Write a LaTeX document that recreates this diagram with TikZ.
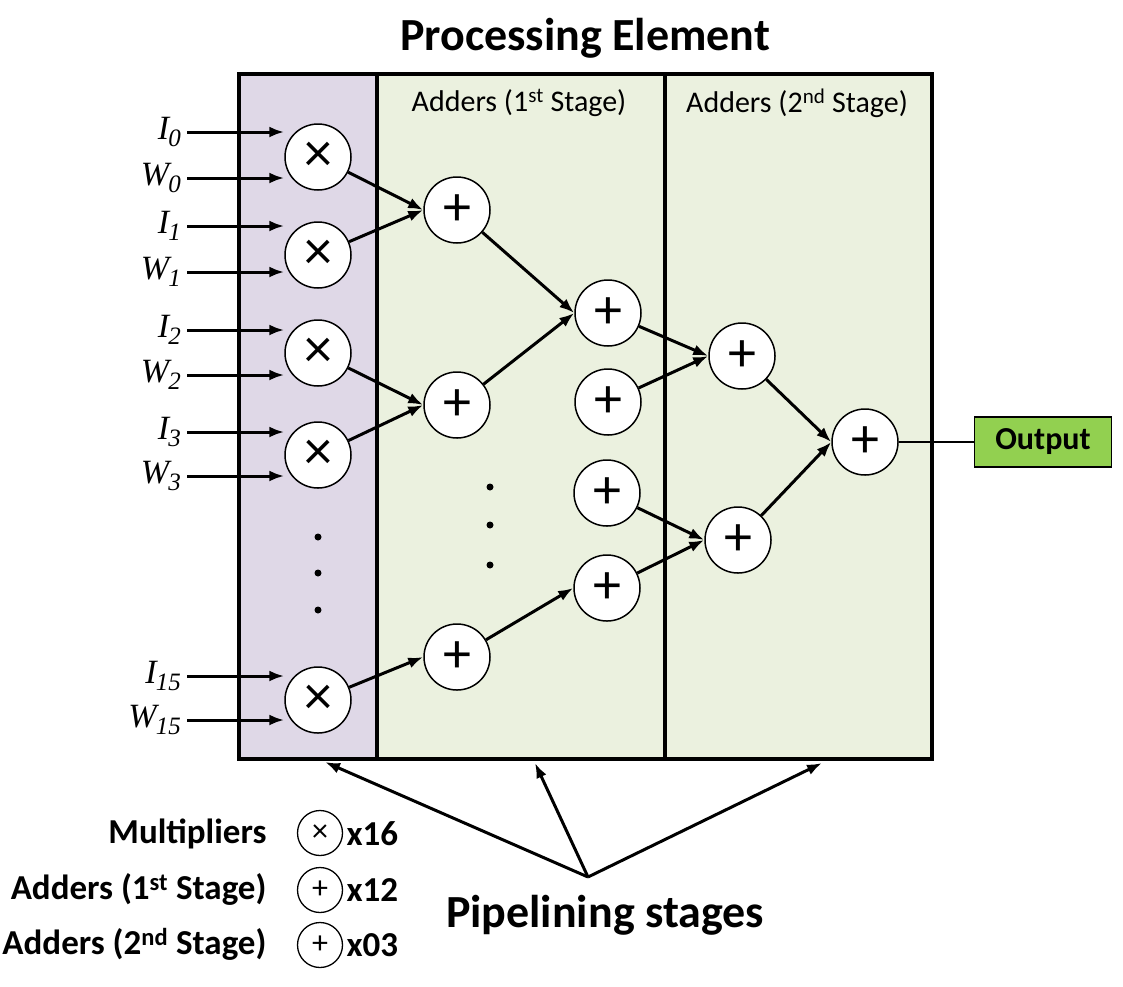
\documentclass[tikz,border=0pt]{standalone}
\usepackage{fontspec}
\setmainfont{Carlito}
\newfontfamily\timesfont{Liberation Serif}
\usetikzlibrary{arrows.meta,positioning,calc}
\definecolor{mulfill}{HTML}{DFD8E7}
\definecolor{addfill}{HTML}{EBF1DF}
\definecolor{outfill}{HTML}{92D050}

% input label: letter with a big subscript
\newcommand{\inlab}[2]{\timesfont\itshape #1\kern-1pt\raisebox{-0.45ex}{\fontsize{25}{25}\selectfont #2}}

\begin{document}
\begin{tikzpicture}[x=1pt,y=-1pt,
  panel/.style={draw, line width=4pt, anchor=north west, minimum height=685pt},
  mul/.style={draw, circle, fill=white, line width=1.5pt, minimum size=66pt, inner sep=0pt,
              font=\fontsize{56}{56}\selectfont},
  add/.style={mul},
  arr/.style={-{Latex[length=15pt,width=11pt]}, line width=3pt},
  inp/.style={anchor=east, inner sep=0pt, font=\fontsize{34}{34}\selectfont},
  dot/.style={circle, fill=black, inner sep=0pt, minimum size=7pt},
  legcirc/.style={draw, circle, line width=1.3pt, minimum size=45pt, inner sep=0pt,
                  font=\fontsize{32}{32}\selectfont},
  legtext/.style={font=\fontsize{35}{35}\selectfont\bfseries}]
  \useasboundingbox (0,0) rectangle (1123,986);

  % panels
  \node[panel, fill=mulfill, minimum width=138pt] (mulpanel) at (237,72) {};
  \node[panel, fill=addfill, minimum width=288pt] (addpanel1) at (375,72) {};
  \node[panel, fill=addfill, minimum width=267pt] (addpanel2) at (663,72) {};

  \node[font=\fontsize{46}{46}\selectfont\bfseries] (title) at (585,38) {Processing Element};
  \node[font=\fontsize{30}{30}\selectfont] (stage1) at (519,103) {Adders (1\textsuperscript{st} Stage)};
  \node[font=\fontsize{30}{30}\selectfont] (stage2) at (797,103) {Adders (2\textsuperscript{nd} Stage)};

  % multipliers
  \node[mul] (m0) at (318,157) {×};
  \node[mul] (m1) at (318,255) {×};
  \node[mul] (m2) at (318,353) {×};
  \node[mul] (m3) at (318,455) {×};
  \node[mul] (m15) at (318,700) {×};
  \node[dot] (md1) at (318,537) {};
  \node[dot] (md2) at (318,573) {};
  \node[dot] (md3) at (318,610) {};

  % inputs
  \node[inp] (i0) at (181,132) {\inlab{I}{0}};
  \node[inp] (w0) at (181,178) {\inlab{W}{0}};
  \node[inp] (i1) at (181,226) {\inlab{I}{1}};
  \node[inp] (w1) at (181,272) {\inlab{W}{1}};
  \node[inp] (i2) at (181,330) {\inlab{I}{2}};
  \node[inp] (w2) at (181,375) {\inlab{W}{2}};
  \node[inp] (i3) at (181,432) {\inlab{I}{3}};
  \node[inp] (w3) at (181,476) {\inlab{W}{3}};
  \node[inp] (i15) at (181,676) {\inlab{I}{15}};
  \node[inp] (w15) at (181,720) {\inlab{W}{15}};

  \draw[arr] ([xshift=6pt]i0.east) -- (i0.east -| m0.west);
  \draw[arr] ([xshift=6pt]w0.east) -- (w0.east -| m0.west);
  \draw[arr] ([xshift=6pt]i1.east) -- (i1.east -| m1.west);
  \draw[arr] ([xshift=6pt]w1.east) -- (w1.east -| m1.west);
  \draw[arr] ([xshift=6pt]i2.east) -- (i2.east -| m2.west);
  \draw[arr] ([xshift=6pt]w2.east) -- (w2.east -| m2.west);
  \draw[arr] ([xshift=6pt]i3.east) -- (i3.east -| m3.west);
  \draw[arr] ([xshift=6pt]w3.east) -- (w3.east -| m3.west);
  \draw[arr] ([xshift=6pt]i15.east) -- (i15.east -| m15.west);
  \draw[arr] ([xshift=6pt]w15.east) -- (w15.east -| m15.west);

  % adders, 1st stage
  \node[add] (a0) at (457,210) {+};
  \node[add] (a1) at (457,405) {+};
  \node[add] (a2) at (457,657) {+};
  \node[add] (b0) at (608,313) {+};
  \node[add] (b1) at (608,402) {+};
  \node[add] (b2) at (607,493) {+};
  \node[add] (b3) at (607,588) {+};
  \node[dot] (ad1) at (490,487) {};
  \node[dot] (ad2) at (490,525) {};
  \node[dot] (ad3) at (490,565) {};

  % adders, 2nd stage
  \node[add] (c0) at (742,356) {+};
  \node[add] (c1) at (738,540) {+};
  \node[add] (d) at (865,442) {+};

  \node[draw, fill=outfill, line width=1.3pt, minimum width=137pt, minimum height=50pt,
        font=\fontsize{32}{32}\selectfont\bfseries] (out) at (1043,442) {Output};

  \draw[arr] (m0) -- (a0.west);
  \draw[arr] (m1) -- (a0.west);
  \draw[arr] (m2) -- (a1.west);
  \draw[arr] (m3) -- (a1.west);
  \draw[arr] (m15) -- (a2.west);
  \draw[arr] (a0) -- (b0.west);
  \draw[arr] (a1) -- (b0.west);
  \draw[arr] (a2) -- (b3.west);
  \draw[arr] (b0) -- (c0.west);
  \draw[arr] (b1) -- (c0.west);
  \draw[arr] (b2) -- (c1.west);
  \draw[arr] (b3) -- (c1.west);
  \draw[arr] (c0) -- (d.west);
  \draw[arr] (c1) -- (d.west);
  \draw[line width=2.5pt] (d) -- (out);

  % pipelining stages
  \node[font=\fontsize{46}{46}\selectfont\bfseries] (pipe) at (605,915) {Pipelining stages};
  \coordinate (fan) at (588,877);
  \coordinate (p1) at (325,762);
  \coordinate (p2) at (535,763);
  \coordinate (p3) at (822,763);
  \draw[arr] (fan) -- (p1);
  \draw[arr] (fan) -- (p2);
  \draw[arr] (fan) -- (p3);

  % legend
  \node[legtext, anchor=east] (lmul) at (270,834) {Multipliers};
  \node[legtext, anchor=east] (ladd1) at (270,889) {Adders (1\textsuperscript{st} Stage)};
  \node[legtext, anchor=east] (ladd2) at (270,944) {Adders (2\textsuperscript{nd} Stage)};
  \node[legcirc] (cmul) at (320,833) {×};
  \node[legcirc] (cadd1) at (320,890) {+};
  \node[legcirc] (cadd2) at (320,945) {+};
  \node[legtext, anchor=west] (nmul) at (343,834) {x16};
  \node[legtext, anchor=west] (nadd1) at (343,890) {x12};
  \node[legtext, anchor=west] (nadd2) at (343,945) {x03};
\end{tikzpicture}
\end{document}
